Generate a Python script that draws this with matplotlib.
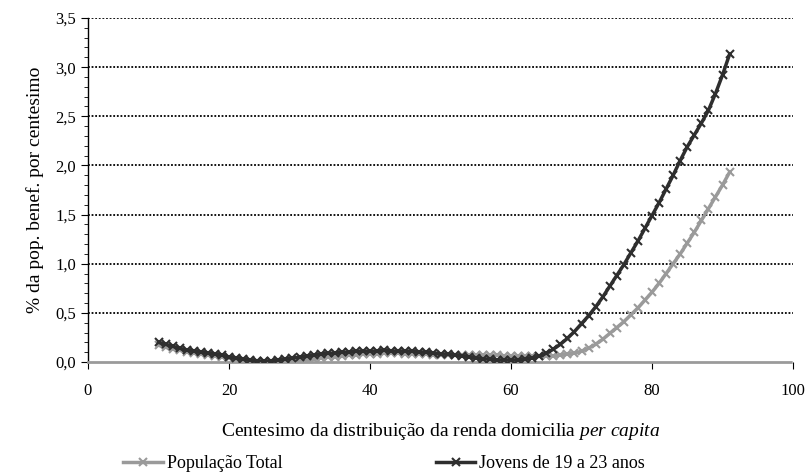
import matplotlib
matplotlib.use("Agg")
import matplotlib.pyplot as plt
from matplotlib.ticker import MultipleLocator, FuncFormatter

plt.rcParams['font.family'] = ['Liberation Serif', 'DejaVu Serif']
plt.rcParams['mathtext.fontset'] = 'custom'
plt.rcParams['mathtext.rm'] = 'Liberation Serif'
plt.rcParams['mathtext.it'] = 'Liberation Serif:italic'

# centesimos
centis = list(range(10, 92))

# % da pop. beneficiaria por centesimo - populacao total
pop_total = [0.17, 0.15, 0.13, 0.12, 0.10, 0.09, 0.08, 0.07, 0.06, 0.05,
             0.04, 0.03, 0.02, 0.01, 0.01, 0.00, 0.00, 0.00, 0.00, 0.00,
             0.01, 0.02, 0.03, 0.04, 0.05, 0.05, 0.06, 0.07, 0.07, 0.08,
             0.08, 0.08, 0.09, 0.09, 0.09, 0.08, 0.08, 0.08, 0.08, 0.07,
             0.07, 0.07, 0.07, 0.07, 0.07, 0.07, 0.07, 0.07, 0.07, 0.06,
             0.06, 0.06, 0.06, 0.06, 0.06, 0.06, 0.06, 0.07, 0.08, 0.09,
             0.11, 0.14, 0.18, 0.23, 0.29, 0.35, 0.41, 0.48, 0.55, 0.63,
             0.71, 0.80, 0.90, 1.00, 1.10, 1.21, 1.32, 1.44, 1.56, 1.68,
             1.80, 1.93]

# jovens de 19 a 23 anos
jovens = [0.20, 0.18, 0.16, 0.14, 0.12, 0.11, 0.10, 0.09, 0.08, 0.07,
          0.05, 0.04, 0.03, 0.02, 0.01, 0.01, 0.01, 0.02, 0.03, 0.04,
          0.05, 0.06, 0.07, 0.08, 0.09, 0.09, 0.10, 0.10, 0.11, 0.11,
          0.11, 0.11, 0.12, 0.11, 0.11, 0.11, 0.11, 0.10, 0.10, 0.09,
          0.08, 0.08, 0.07, 0.06, 0.05, 0.04, 0.03, 0.03, 0.02, 0.02,
          0.02, 0.02, 0.03, 0.04, 0.06, 0.09, 0.13, 0.18, 0.24, 0.31,
          0.39, 0.47, 0.56, 0.66, 0.77, 0.88, 0.99, 1.11, 1.23, 1.36,
          1.49, 1.62, 1.76, 1.90, 2.05, 2.19, 2.31, 2.43, 2.56, 2.73,
          2.92, 3.13]

fig = plt.figure(figsize=(8.11, 4.73), dpi=100)
ax = fig.add_axes([88/811, 1 - 362/473, (793-88)/811, (362-18)/473])

for y in [0.5, 1.0, 1.5, 2.0, 2.5, 3.0, 3.5]:
    ax.axhline(y, color='black', linestyle=(0, (1, 1)), linewidth=1.3, zorder=1)

ax.plot(centis, pop_total, color='#9a9a9a', marker='x', markersize=6,
        markeredgewidth=1.5, linewidth=2.5, label='População Total', zorder=3)
ax.plot(centis, jovens, color='#2e2e2e', marker='x', markersize=6,
        markeredgewidth=1.5, linewidth=2.5, label='Jovens de 19 a 23 anos', zorder=4)

ax.set_xlim(0, 100)
ax.set_ylim(0, 3.5)
ax.xaxis.set_major_locator(MultipleLocator(20))
ax.yaxis.set_major_locator(MultipleLocator(0.5))
ax.yaxis.set_minor_locator(MultipleLocator(0.1))
ax.yaxis.set_major_formatter(FuncFormatter(lambda v, p: ('%.1f' % v).replace('.', ',')))

for s in ['top', 'right']:
    ax.spines[s].set_visible(False)
ax.spines['bottom'].set_color('#9a9a9a')
ax.spines['bottom'].set_linestyle((0, (1, 1)))
ax.spines['bottom'].set_linewidth(2)
ax.spines['left'].set_color('black')
ax.spines['left'].set_linewidth(1)
ax.tick_params(axis='both', labelsize=12, direction='out', length=5, color='black')
ax.tick_params(axis='y', which='minor', length=3)
ax.tick_params(axis='x', pad=10)

ax.set_xlabel('Centesimo da distribuição da renda domicilia $\\it{per\\ capita}$',
              fontsize=14, labelpad=16)
ax.set_ylabel('% da pop. benef. por centesimo', fontsize=14, labelpad=8)

ax.legend(loc='center', bbox_to_anchor=(0.42, -0.295), ncol=2,
          frameon=False, fontsize=13, handlelength=2.2, handletextpad=0.2,
          columnspacing=8.5)

plt.savefig('out.png', dpi=100)
